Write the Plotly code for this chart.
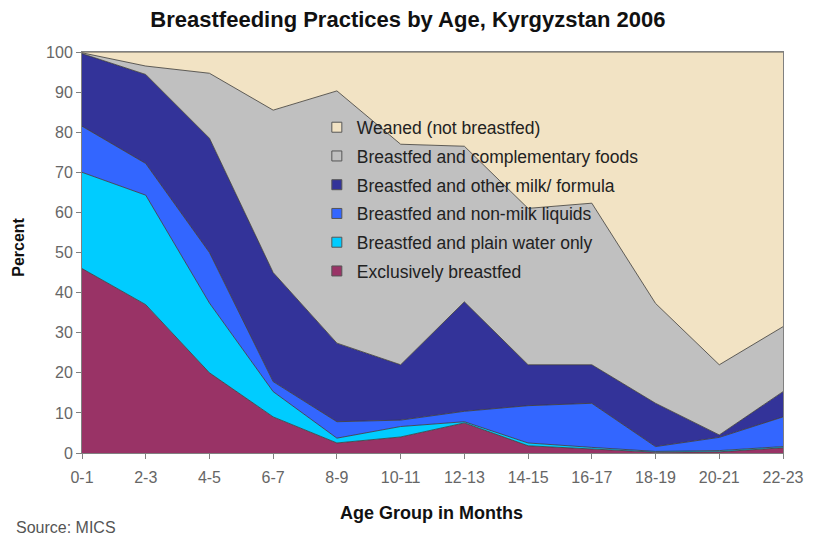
import plotly.graph_objects as go

categories = ["0-1", "2-3", "4-5", "6-7", "8-9", "10-11", "12-13", "14-15", "16-17", "18-19", "20-21", "22-23"]

exclusive = [46, 37, 20, 9, 2.5, 4, 7.5, 1.8, 1, 0.2, 0.3, 1.3]
plain_water = [24, 27.3, 17.4, 6.3, 1.2, 2.6, 0.3, 0.7, 0.4, 0.2, 0.3, 0.3]
non_milk = [11.5, 7.9, 12.6, 2.5, 4.1, 1.6, 2.6, 9.3, 11, 1.2, 3.3, 7.4]
other_milk = [18.1, 22.2, 28.5, 27.2, 19.6, 13.8, 27.3, 10.2, 9.6, 10.8, 0.6, 6.3]
complementary = [0.2, 2.1, 16.2, 40.5, 62.9, 55, 38.8, 39, 40.3, 24.9, 17.5, 16.2]
weaned = [0.2, 3.5, 5.3, 14.5, 9.7, 23, 23.5, 39, 37.7, 62.7, 78, 68.5]

series_names = ["Exclusively breastfed", "Breastfed and plain water only",
                "Breastfed and non-milk liquids", "Breastfed and other milk/ formula",
                "Breastfed and complementary foods", "Weaned (not breastfed)"]
series_values = [exclusive, plain_water, non_milk, other_milk, complementary, weaned]
series_colors = ["#993366", "#00CCFF", "#3366FF", "#333399", "#C0C0C0", "#F2E3C4"]

font_family = "Liberation Sans, Arial, sans-serif"

fig = go.Figure()
# stacked areas
for name, vals, col in zip(series_names, series_values, series_colors):
    fig.add_trace(go.Scatter(
        x=categories, y=vals, name=name, mode="lines",
        stackgroup="one", fillcolor=col,
        line=dict(color="#3a3a3a", width=0.8),
        showlegend=False, hoverinfo="x+y+name",
    ))
# legend entries (square swatches), top-to-bottom order like the reference
for i, (name, col) in enumerate(zip(series_names[::-1], series_colors[::-1])):
    fig.add_trace(go.Scatter(
        x=[None], y=[None], name=name, mode="markers",
        marker=dict(symbol="square", size=10, color=col,
                    line=dict(color="#555555", width=1)),
        legendgroup=f"g{i}", showlegend=True,
    ))

fig.update_layout(
    width=808, height=529,
    margin=dict(l=74, r=23, t=44, b=84),
    paper_bgcolor="white",
    plot_bgcolor="#F2E3C4",
    font=dict(family=font_family, color="#333333"),
    title=dict(text="<b>Breastfeeding Practices by Age, Kyrgyzstan 2006</b>",
               x=0.495, xanchor="center", y=0.978, yanchor="middle",
               font=dict(size=22, color="#111111")),
    showlegend=True,
    legend=dict(
        x=0.335, y=0.857, xanchor="left", yanchor="top",
        bgcolor="rgba(0,0,0,0)",
        traceorder="grouped",
        tracegroupgap=3,
        font=dict(size=17.5, color="#222222"),
    ),
    xaxis=dict(
        type="category", range=[0, 11],
        showgrid=False, showline=True, linecolor="#808080", linewidth=1, mirror=True,
        ticks="outside", ticklen=5, tickcolor="#808080",
        tickfont=dict(size=16, color="#666666"),
        ticklabelstandoff=5,
    ),
    yaxis=dict(
        range=[0, 100], dtick=10,
        showgrid=False, showline=True, linecolor="#808080", linewidth=1, mirror=True,
        ticks="outside", ticklen=5, tickcolor="#808080",
        tickfont=dict(size=16, color="#666666"),
    ),
    annotations=[
        dict(text="<b>Percent</b>", xref="paper", yref="paper", x=-0.09, y=0.514,
             xanchor="center", yanchor="middle", textangle=-90, showarrow=False,
             font=dict(size=16, color="#111111")),
        dict(text="<b>Age Group in Months</b>", xref="paper", yref="paper", x=0.498, y=-0.150,
             xanchor="center", yanchor="middle", showarrow=False,
             font=dict(size=18, color="#111111")),
        dict(text="Source: MICS", xref="paper", yref="paper", x=-0.097, y=-0.187,
             xanchor="left", yanchor="middle", showarrow=False,
             font=dict(size=16, color="#555555")),
    ],
)

fig.write_html("out.html")
